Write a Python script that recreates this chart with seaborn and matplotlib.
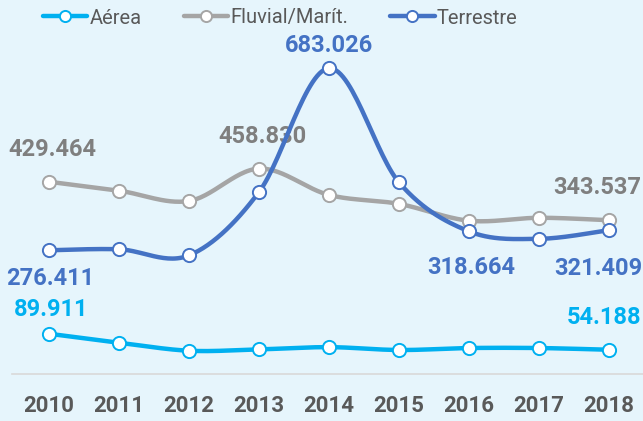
import numpy as np
import pandas as pd
import matplotlib
matplotlib.use("Agg")
import matplotlib.pyplot as plt
from matplotlib.lines import Line2D
import seaborn as sns

years = [2010, 2011, 2012, 2013, 2014, 2015, 2016, 2017, 2018]
aerea = [89911, 70000, 52000, 55000, 60000, 53600, 58000, 58000, 54188]
fluvial = [429464, 409500, 386500, 458830, 400000, 380000, 342500, 349000, 343537]
terrestre = [276411, 278600, 265000, 406600, 683026, 428000, 318664, 302000, 321409]

series_names = ["Aérea", "Fluvial/Marít.", "Terrestre"]
colors = {"Aérea": "#00b0f0", "Fluvial/Marít.": "#a5a5a5", "Terrestre": "#4472c4"}
label_colors = {"Aérea": "#00b0f0", "Fluvial/Marít.": "#7f7f7f", "Terrestre": "#4472c4"}

# which points get a data label: (series, year index, dx px, dy px)
labels = [
    ("Fluvial/Marít.", 0, 3, 32),
    ("Fluvial/Marít.", 3, 4, 32),
    ("Fluvial/Marít.", 8, -12, 33),
    ("Terrestre", 4, 0, 23),
    ("Terrestre", 0, 1, -28),
    ("Terrestre", 6, 2, -36),
    ("Terrestre", 8, -11, -38),
    ("Aérea", 0, 2, 24),
    ("Aérea", 8, -5, 32),
]


def smooth(x, y, n=30):
    # catmull-rom curve through the points, like Excel's smoothed line
    x = np.asarray(x, float)
    y = np.asarray(y, float)
    px = np.concatenate([[x[0]], x, [x[-1]]])
    py = np.concatenate([[y[0]], y, [y[-1]]])
    xs, ys = [], []
    for i in range(1, len(px) - 2):
        t = np.linspace(0, 1, n, endpoint=False)
        for p, out in ((px, xs), (py, ys)):
            p0, p1, p2, p3 = p[i - 1], p[i], p[i + 1], p[i + 2]
            out.extend(0.5 * ((2 * p1) + (-p0 + p2) * t
                              + (2 * p0 - 5 * p1 + 4 * p2 - p3) * t ** 2
                              + (-p0 + 3 * p1 - 3 * p2 + p3) * t ** 3))
    xs.append(x[-1])
    ys.append(y[-1])
    return xs, ys


def fmt(v):
    return f"{v:,.0f}".replace(",", ".")


data = {"Aérea": aerea, "Fluvial/Marít.": fluvial, "Terrestre": terrestre}

rows = []
for name in series_names:
    sx, sy = smooth(years, data[name])
    for i, (a, b) in enumerate(zip(sx, sy)):
        rows.append({"serie": name, "order": i, "year": a, "value": b})
curves = pd.DataFrame(rows)

sns.set_theme(style="white")
plt.rcParams["font.family"] = ["Roboto", "DejaVu Sans"]

bg = "#e6f5fc"
fig = plt.figure(figsize=(6.43, 4.21), dpi=100, facecolor=bg)
ax = fig.add_axes([12 / 643, 47 / 421, 631 / 643, (374 - 45) / 421])
ax.set_facecolor(bg)

sns.lineplot(data=curves, x="year", y="value", hue="serie", hue_order=series_names,
             palette=colors, sort=False, estimator=None, units="serie",
             linewidth=3.2, legend=False, ax=ax, zorder=3)
for name in series_names:
    ax.plot(years, data[name], linestyle="none", marker="o", markersize=9.5,
            markerfacecolor="white", markeredgecolor=colors[name],
            markeredgewidth=1.4, zorder=4)

for name, i, dx, dy in labels:
    ax.annotate(fmt(data[name][i]), (years[i], data[name][i]),
                xytext=(dx * 0.72, dy * 0.72), textcoords="offset points",
                ha="center", va="center", fontsize=17, fontweight="bold",
                color=label_colors[name], zorder=2)

ax.set_xlim(2009 + 33 / 70, 2018 + 34 / 70)
ax.set_ylim(0, (374 - 45) * 2234)
ax.set_xticks(years)
ax.set_xticklabels([str(y) for y in years], fontsize=16, fontweight="bold", color="#595959")
ax.set_yticks([])
ax.set_xlabel("")
ax.set_ylabel("")
ax.tick_params(axis="x", length=0, pad=15)
for side in ["top", "right", "left"]:
    ax.spines[side].set_visible(False)
ax.spines["bottom"].set_color("#d9d9d9")
ax.spines["bottom"].set_linewidth(1.2)

handles = [Line2D([], [], color=colors[n], lw=3.2, marker="o", markersize=8,
                  markerfacecolor="white", markeredgecolor=colors[n], markeredgewidth=1.4)
           for n in series_names]
fig.legend(handles, series_names, loc="center left", bbox_to_anchor=(43 / 643, 1 - 18 / 421),
           ncol=3, frameon=False, fontsize=14.5, handlelength=2.2, handletextpad=0.1,
           columnspacing=2.1, labelcolor="#595959", borderpad=0, borderaxespad=0)

fig.savefig("out.png", dpi=100, facecolor=bg)
